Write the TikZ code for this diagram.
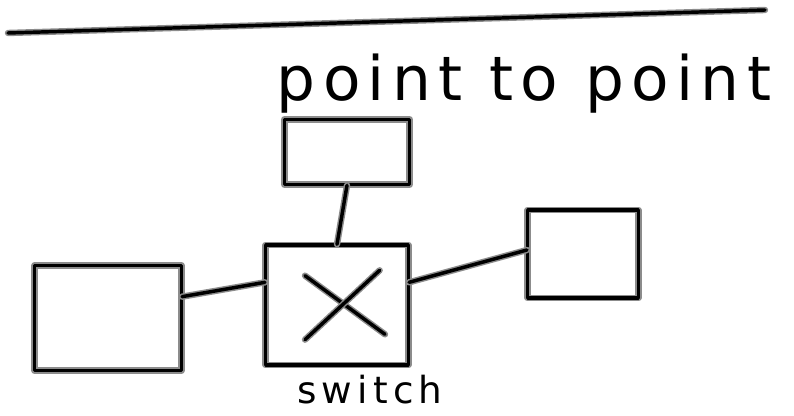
\documentclass[tikz,border=0pt]{standalone}
\usepackage{fontspec}
\setmainfont{DejaVu Sans}
\begin{document}
\begin{tikzpicture}[x=0.75pt,y=-0.75pt,
  sketch/.style={draw=black!45, double=black, double distance=2.6pt, line width=1.1pt, line cap=round, line join=round},
  sbox/.style={sketch, rectangle, inner sep=0pt},
  hand/.style={inner sep=0pt}]
\useasboundingbox (0,0) rectangle (794,416);
\coordinate (tl) at (8,33);
\coordinate (tr) at (765,10);
\draw[sketch] (tl) -- (tr);
\node[hand, font=\fontsize{46}{46}\selectfont\addfontfeature{LetterSpace=12}] (title) at (524,84) {point to point};
\node[sbox, minimum width=94pt, minimum height=49pt] (top) at (347,152) {};
\node[sbox, minimum width=107pt, minimum height=90pt] (sw) at (337,305) {};
\node[sbox, minimum width=110pt, minimum height=79pt] (lb) at (108,318) {};
\node[sbox, minimum width=83pt, minimum height=66pt] (rb) at (583,254) {};
\node[hand, font=\fontsize{28}{28}\selectfont\addfontfeature{LetterSpace=14}] (lbl) at (370,390) {switch};
\draw[sketch] ([xshift=-24pt,yshift=22pt]sw.center) -- ([xshift=36pt,yshift=-22pt]sw.center);
\draw[sketch] ([xshift=32pt,yshift=26pt]sw.center) -- ([xshift=-24pt,yshift=-26pt]sw.center);
\draw[sketch] (top.south) -- (sw.north);
\draw[sketch] ([yshift=16pt]lb.east) -- ([yshift=17pt]sw.west);
\draw[sketch] ([yshift=17pt]sw.east) -- ([yshift=3pt]rb.west);
\end{tikzpicture}
\end{document}
